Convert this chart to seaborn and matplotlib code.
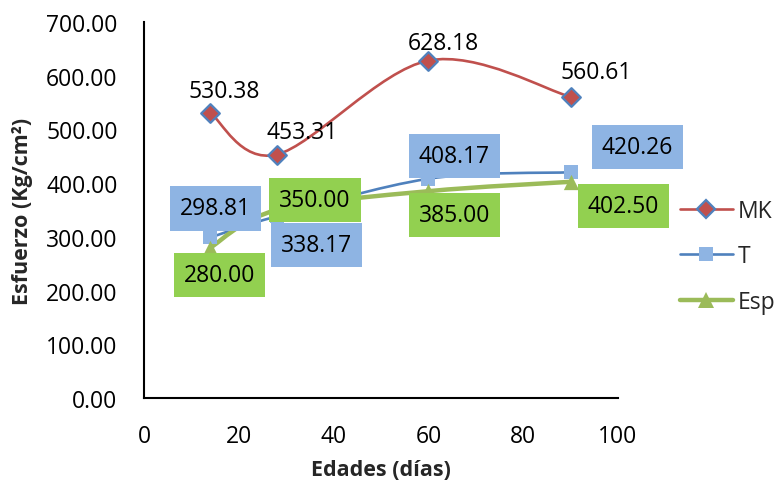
import numpy as np
import pandas as pd
import matplotlib
matplotlib.use("Agg")
import matplotlib.pyplot as plt
from matplotlib.path import Path
from matplotlib.patches import PathPatch
from matplotlib.lines import Line2D
import seaborn as sns

# Ages (days) and compressive strength per mix
edades = [14, 28, 60, 90]
mk = [530.38, 453.31, 628.18, 560.61]
t = [298.81, 338.17, 408.17, 420.26]
esp = [280.00, 350.00, 385.00, 402.50]

series_names = ["MK", "T", "Esp"]
x_ticks = [0, 20, 40, 60, 80, 100]
y_ticks = [0, 100, 200, 300, 400, 500, 600, 700]

df = pd.DataFrame({
    "edad": edades * 3,
    "valor": mk + t + esp,
    "serie": ["MK"] * 4 + ["T"] * 4 + ["Esp"] * 4,
})

sns.set_theme(style="white")
plt.rcParams["font.family"] = ["Open Sans", "DejaVu Sans"]

FS = 16.5
styles = {
    "MK": dict(line="#C0504D", lw=1.9, marker="D", face="#C0504D", edge="#4F81BD", ms=9.5, mew=1.6),
    "T": dict(line="#4F81BD", lw=1.9, marker="s", face="#8EB4E3", edge="#8EB4E3", ms=9.5, mew=0),
    "Esp": dict(line="#9BBB59", lw=3.2, marker="^", face="#9BBB59", edge="#9BBB59", ms=11, mew=0),
}
box_colors = {"T": "#8EB4E3", "Esp": "#92D050"}

# label offsets in pixels from each point
offsets = {
    "MK": [(14, 22), (25, 23), (15, 18), (26, 25)],
    "T": [(5, 29), (40, -29), (26, 23), (67, 25)],
    "Esp": [(9, -27), (38, 10), (26, -24), (53, -24)],
}

fig = plt.figure(figsize=(7.77, 4.89), dpi=100)
ax = fig.add_axes([144 / 777, 1 - 399 / 489, (618 - 144) / 777, (399 - 23) / 489])


def smooth_path(xs, ys):
    """Cubic Bezier through the points, with Catmull-Rom style tangents."""
    pts = np.column_stack([xs, ys]).astype(float)
    n = len(pts)
    verts = [pts[0]]
    codes = [Path.MOVETO]
    for i in range(n - 1):
        p0 = pts[i - 1] if i > 0 else pts[i]
        p1 = pts[i]
        p2 = pts[i + 1]
        p3 = pts[i + 2] if i + 2 < n else pts[i + 1]
        c1 = p1 + (p2 - p0) / 6.0
        c2 = p2 - (p3 - p1) / 6.0
        verts += [c1, c2, p2]
        codes += [Path.CURVE4] * 3
    return Path(verts, codes)


for z, name in enumerate(series_names):
    st = styles[name]
    sub = df[df["serie"] == name]
    patch = PathPatch(smooth_path(sub["edad"].values, sub["valor"].values),
                      facecolor="none", edgecolor=st["line"], lw=st["lw"],
                      zorder=2 + z, capstyle="round")
    ax.add_patch(patch)
    sns.scatterplot(data=sub, x="edad", y="valor", marker=st["marker"],
                    s=st["ms"] ** 2, color=st["face"], edgecolor=st["edge"],
                    linewidth=st["mew"], ax=ax, zorder=5 + z, legend=False)

for name in series_names:
    sub = df[df["serie"] == name]
    for (xv, yv), (dx, dy) in zip(zip(sub["edad"], sub["valor"]), offsets[name]):
        kw = {}
        if name in box_colors:
            kw["bbox"] = dict(boxstyle="square,pad=0.44", fc=box_colors[name], ec="none")
        ax.annotate(f"{yv:.2f}", (xv, yv), xytext=(dx, dy), textcoords="offset pixels",
                    ha="center", va="center", fontsize=FS, color="black",
                    zorder=10, annotation_clip=False, **kw)

ax.set_xlim(0, 100)
ax.set_ylim(0, 700)
ax.set_xticks(x_ticks)
ax.set_xticklabels([str(v) for v in x_ticks])
ax.set_yticks(y_ticks)
ax.set_yticklabels([f"{v:.2f}" for v in y_ticks])
ax.tick_params(axis="both", length=0, labelsize=FS, colors="black")
ax.tick_params(axis="y", pad=19)
ax.tick_params(axis="x", pad=19)
for side in ["top", "right"]:
    ax.spines[side].set_visible(False)
for side in ["left", "bottom"]:
    ax.spines[side].set_color("black")
    ax.spines[side].set_linewidth(1.5)

ax.set_xlabel("Edades (días)", fontsize=15.5, fontweight="bold", labelpad=8)
ax.set_ylabel("Esfuerzo (Kg/cm²)", fontsize=15.5, fontweight="bold")
ax.yaxis.set_label_coords(-(144 - 33) / 474, 0.5)

handles = []
for name in series_names:
    st = styles[name]
    handles.append(Line2D([0], [0], color=st["line"], lw=st["lw"], marker=st["marker"],
                          markersize=st["ms"], markerfacecolor=st["face"],
                          markeredgecolor=st["edge"], markeredgewidth=st["mew"]))
leg = ax.legend(handles, series_names, loc="center left",
                bbox_to_anchor=(680 / 777, 1 - 257.5 / 489), bbox_transform=fig.transFigure,
                frameon=False, borderpad=0, borderaxespad=0, fontsize=FS,
                handlelength=2.3, handletextpad=0.22, labelspacing=0.95)

fig.savefig("out.png", dpi=100)
